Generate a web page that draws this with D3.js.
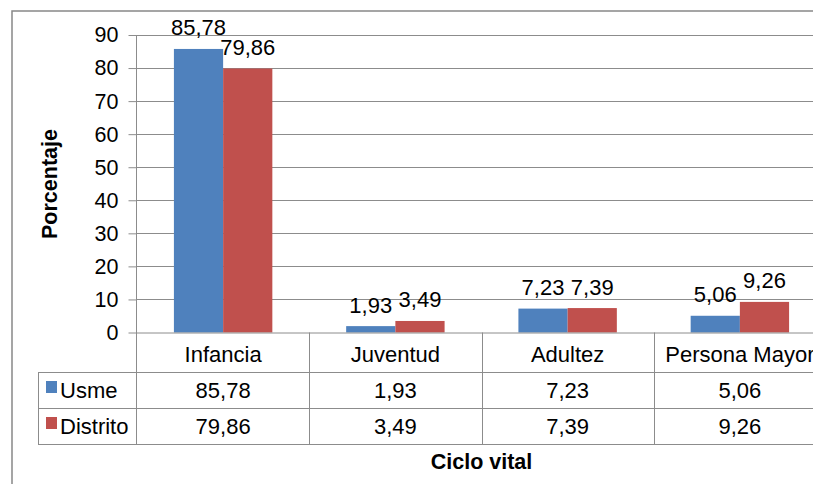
<!DOCTYPE html>
<html><head><meta charset="utf-8">
<script src="https://cdn.jsdelivr.net/npm/d3@7"></script>
<style>
body{margin:0;background:#fff;}
text{font-family:"Liberation Sans",Arial,sans-serif;fill:#000;}
</style></head>
<body><svg id="c" width="813" height="484"></svg>
<script>
const categories = ["Infancia","Juventud","Adultez","Persona Mayor"];
const seriesNames = ["Usme","Distrito"];
const usme = [85.78, 1.93, 7.23, 5.06];
const distrito = [79.86, 3.49, 7.39, 9.26];
const yTicks = [0,10,20,30,40,50,60,70,80,90];
const colors = ["#4F81BD","#C0504D"];
const seriesValues = [usme, distrito];
const fmt = v => v.toFixed(2).replace(".", ",");

const svg = d3.select("#c");
const L = 137, R = 826, T = 35, B = 332.5;
const rowY = [332.5, 372, 408, 444];
const gridColor = "#8c8c8c";
const FS = "22px";

// outer border
svg.append("rect").attr("x",12).attr("y",11).attr("width",900).attr("height",600)
  .attr("fill","none").attr("stroke","#888").attr("stroke-width",1.5);

const x = d3.scaleBand().domain(categories).range([L,R]).padding(0);
const xs = d3.scaleBand().domain(seriesNames).range([0,x.bandwidth()]).paddingInner(0).paddingOuter(0.75);
const y = d3.scaleLinear().domain([0,90]).range([B,T]);

// gridlines
svg.append("g").selectAll("line").data(yTicks.filter(t=>t>0)).join("line")
  .attr("x1",L).attr("x2",R).attr("y1",d=>Math.round(y(d))+0.5).attr("y2",d=>Math.round(y(d))+0.5)
  .attr("stroke",gridColor).attr("stroke-width",1);

// y axis
const yAxis = d3.axisLeft(y).tickValues(yTicks).tickSize(8).tickPadding(10).tickFormat(d=>d);
const ga = svg.append("g").attr("transform",`translate(${L-0.5},0)`).call(yAxis);
ga.select(".domain").remove();
ga.selectAll(".tick line").attr("stroke",gridColor);
ga.selectAll(".tick text").style("font-size","21.5px").attr("font-family","Liberation Sans, Arial, sans-serif").attr("fill","#000");

// bars
seriesNames.forEach((s,si)=>{
  svg.append("g").selectAll("rect").data(categories).join("rect")
    .attr("x",d=>x(d)+xs(s)).attr("width",xs.bandwidth())
    .attr("y",(d,i)=>y(seriesValues[si][i])).attr("height",(d,i)=>B-y(seriesValues[si][i]))
    .attr("fill",colors[si]);
  svg.append("g").selectAll("text").data(categories).join("text")
    .attr("x",d=>x(d)+xs(s)+xs.bandwidth()/2)
    .attr("y",(d,i)=>y(seriesValues[si][i])-13.5)
    .attr("text-anchor","middle").style("font-size",FS)
    .text((d,i)=>fmt(seriesValues[si][i]));
});

// table
const tg = svg.append("g").attr("stroke",gridColor).attr("stroke-width",1);
tg.append("line").attr("x1",L).attr("x2",R).attr("y1",rowY[0]+0.5).attr("y2",rowY[0]+0.5);
[1,2,3].forEach(i=>tg.append("line").attr("x1",38).attr("x2",R).attr("y1",rowY[i]+0.5).attr("y2",rowY[i]+0.5));
tg.append("line").attr("x1",38.5).attr("x2",38.5).attr("y1",rowY[1]).attr("y2",rowY[3]);
tg.append("line").attr("x1",L-0.5).attr("x2",L-0.5).attr("y1",T).attr("y2",rowY[3]);
categories.forEach(c=>{
  const xr = Math.round(x(c)+x.bandwidth())+0.5;
  tg.append("line").attr("x1",xr).attr("x2",xr).attr("y1",rowY[0]).attr("y2",rowY[3]);
});

// category labels
svg.append("g").selectAll("text").data(categories).join("text")
  .attr("x",d=>x(d)+x.bandwidth()/2).attr("y",362).attr("text-anchor","middle")
  .style("font-size",FS).text(d=>d);

// value rows
seriesNames.forEach((s,si)=>{
  const by = si===0 ? 398 : 434;
  svg.append("g").selectAll("text").data(categories).join("text")
    .attr("x",d=>x(d)+x.bandwidth()/2).attr("y",by).attr("text-anchor","middle")
    .style("font-size",FS).text((d,i)=>fmt(seriesValues[si][i]));
  svg.append("rect").attr("x",46).attr("y",by-17).attr("width",11).attr("height",12).attr("fill",colors[si]);
  svg.append("text").attr("x",60).attr("y",by).style("font-size",FS).text(s);
});

// axis titles
svg.append("text").attr("transform","translate(56.5,184) rotate(-90)").attr("text-anchor","middle")
  .style("font-size","21.5px").style("font-weight","bold").text("Porcentaje");
svg.append("text").attr("x",(L+R)/2).attr("y",469).attr("text-anchor","middle")
  .style("font-size","21.5px").style("font-weight","bold").text("Ciclo vital");
</script></body></html>
